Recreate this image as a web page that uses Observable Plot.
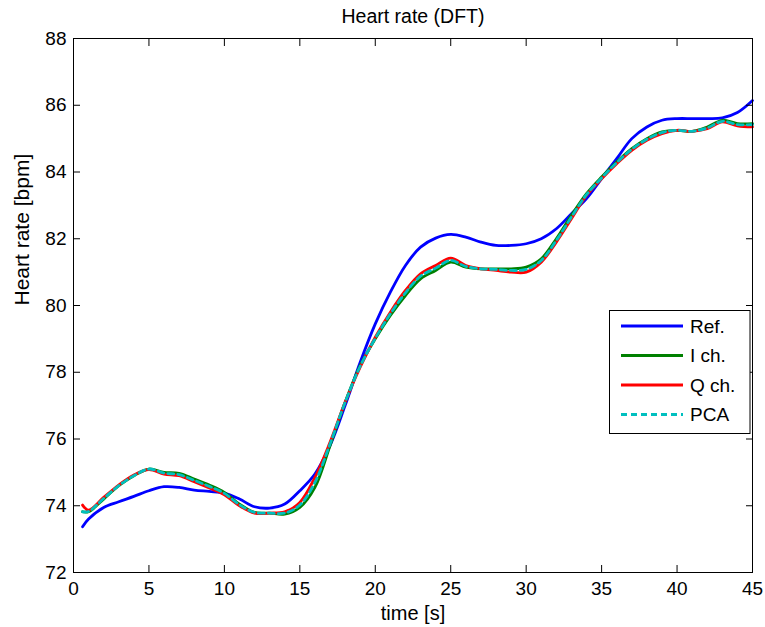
<!DOCTYPE html>
<html>
<head>
<meta charset="utf-8">
<script src="https://cdn.jsdelivr.net/npm/d3@7"></script>
<script src="https://cdn.jsdelivr.net/npm/@observablehq/plot@0.6"></script>
<style>
  html, body { margin: 0; padding: 0; background: #fff; }
  #chart svg { display: block; }
</style>
</head>
<body>
<div id="chart"></div>
<script>
const times = [0.6, 1, 2, 3, 4, 5, 6, 7, 8, 9, 10, 11, 12, 13, 14, 15, 16, 17, 18, 19, 20, 21, 22, 23, 24, 25, 26, 27, 28, 29, 30, 31, 32, 33, 34, 35, 36, 37, 38, 39, 40, 41, 42, 43, 44, 45];
const refValues = [73.37, 73.6, 73.95, 74.12, 74.28, 74.45, 74.57, 74.55, 74.47, 74.43, 74.38, 74.2, 73.97, 73.93, 74.05, 74.45, 74.95, 75.8, 77.0, 78.3, 79.45, 80.4, 81.2, 81.75, 82.02, 82.13, 82.05, 81.9, 81.8, 81.8, 81.85, 82.0, 82.3, 82.75, 83.2, 83.8, 84.4, 85.0, 85.35, 85.55, 85.6, 85.6, 85.6, 85.62, 85.78, 86.14];
const iValues = [73.82, 73.82, 74.2, 74.6, 74.9, 75.1, 75.0, 74.97, 74.8, 74.62, 74.4, 74.05, 73.8, 73.78, 73.75, 73.95, 74.55, 75.8, 77.1, 78.2, 79.0, 79.7, 80.3, 80.8, 81.05, 81.3, 81.15, 81.1, 81.1, 81.1, 81.15, 81.4, 82.0, 82.7, 83.35, 83.85, 84.3, 84.7, 85.0, 85.2, 85.25, 85.22, 85.35, 85.55, 85.45, 85.45];
const qValues = [74.02, 73.87, 74.25, 74.62, 74.92, 75.08, 74.95, 74.9, 74.72, 74.53, 74.33, 74.0, 73.78, 73.78, 73.82, 74.1, 74.85, 75.9, 77.1, 78.15, 79.05, 79.8, 80.45, 80.95, 81.2, 81.42, 81.2, 81.1, 81.05, 81.0, 81.0, 81.3, 81.9, 82.6, 83.3, 83.8, 84.25, 84.65, 84.95, 85.15, 85.25, 85.22, 85.3, 85.5, 85.38, 85.35];
const pcaValues = [73.82, 73.83, 74.22, 74.6, 74.9, 75.1, 74.98, 74.93, 74.76, 74.58, 74.37, 74.03, 73.8, 73.78, 73.78, 74.02, 74.7, 75.85, 77.1, 78.18, 79.02, 79.75, 80.38, 80.88, 81.12, 81.35, 81.17, 81.1, 81.08, 81.05, 81.08, 81.35, 81.95, 82.65, 83.32, 83.82, 84.28, 84.68, 84.98, 85.18, 85.25, 85.22, 85.32, 85.52, 85.42, 85.42];

const seriesNames = ["Ref.", "I ch.", "Q ch.", "PCA"];
const seriesColors = ["#0000ff", "#008000", "#ff0000", "#00bfbf"];
const seriesDash = [null, null, null, "6,4"];
const seriesValues = [refValues, iValues, qValues, pcaValues];

const xTicks = [0, 5, 10, 15, 20, 25, 30, 35, 40, 45];
const yTicks = [72, 74, 76, 78, 80, 82, 84, 86, 88];

const titleText = "Heart rate (DFT)";
const xLabel = "time [s]";
const yLabel = "Heart rate [bpm]";

const font = "'Liberation Sans', Arial, Helvetica, sans-serif";

const lineMarks = seriesValues.map((vals, i) =>
  Plot.line(times.map((t, j) => ({t, v: vals[j]})), {
    x: "t", y: "v",
    stroke: seriesColors[i],
    strokeWidth: 2.8,
    strokeDasharray: seriesDash[i],
    curve: "catmull-rom"
  })
);

const svg = Plot.plot({
  width: 765,
  height: 627,
  marginLeft: 73,
  marginRight: 13,
  marginTop: 38,
  marginBottom: 55,
  style: {fontFamily: font, fontSize: "19px", color: "#000", background: "#fff"},
  x: {domain: [0, 45]},
  y: {domain: [72, 88]},
  marks: [
    ...lineMarks,
    Plot.frame({stroke: "#000", strokeWidth: 1}),
    Plot.axisX({ticks: xTicks, tickSize: -7, tickPadding: 16, tickFormat: d => String(d), label: null, fontSize: 19}),
    Plot.axisX({anchor: "top", ticks: xTicks, tickSize: -7, tickFormat: () => "", label: null}),
    Plot.axisY({ticks: yTicks, tickSize: -7, tickPadding: 14, tickFormat: d => String(d), label: null, fontSize: 19}),
    Plot.axisY({anchor: "right", ticks: yTicks, tickSize: -7, tickFormat: () => "", label: null}),
    Plot.text([titleText], {frameAnchor: "top", dy: -29, fontSize: 19.5, fill: "#000"}),
    Plot.text([xLabel], {frameAnchor: "bottom", dy: 47, fontSize: 20, fill: "#000"}),
    Plot.text([yLabel], {frameAnchor: "left", dx: -51, rotate: -90, fontSize: 21, fill: "#000"})
  ]
});

// legend box (MATLAB-style)
const g = d3.select(svg).append("g")
  .attr("font-family", font).attr("font-size", 19).attr("text-anchor", "start");
g.append("rect").attr("x", 609.5).attr("y", 310.5).attr("width", 140.5).attr("height", 123)
  .attr("fill", "#fff").attr("stroke", "#000").attr("stroke-width", 1);
seriesNames.forEach((name, i) => {
  const y = 326 + i * 29.5;
  g.append("line").attr("x1", 621).attr("x2", 683).attr("y1", y).attr("y2", y)
    .attr("stroke", seriesColors[i]).attr("stroke-width", 2.8)
    .attr("stroke-dasharray", seriesDash[i]);
  g.append("text").attr("x", 690).attr("y", y).attr("dy", "0.36em")
    .attr("fill", "#000").attr("text-anchor", "start").text(name);
});

document.getElementById("chart").appendChild(svg);
</script>
</body>
</html>
